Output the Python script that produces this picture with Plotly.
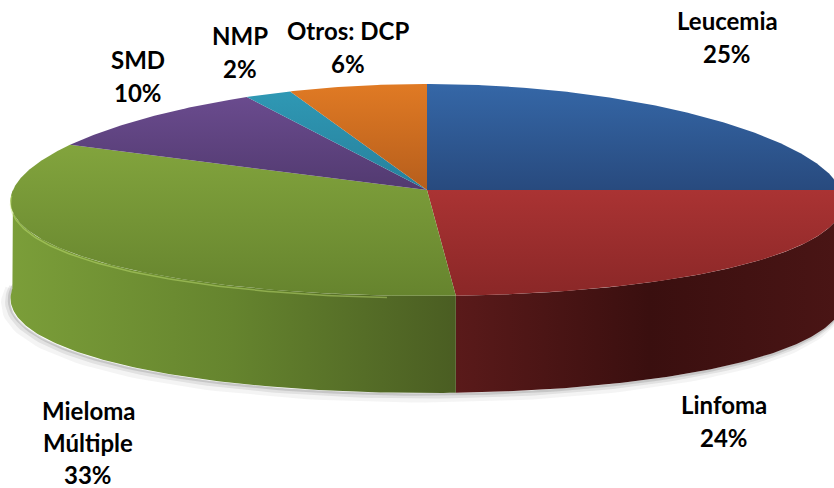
import numpy as np
import plotly.graph_objects as go

# Distribution of diagnoses (percent of total)
categories = ["Leucemia", "Linfoma", "Mieloma Múltiple", "SMD", "NMP", "Otros: DCP"]
values = [25, 24, 33, 10, 2, 6]
label_lines = [["Leucemia"], ["Linfoma"], ["Mieloma", "Múltiple"], ["SMD"], ["NMP"], ["Otros: DCP"]]

# Styling: top-face gradients (upper colour first) and side-wall gradients (left colour first)
top_colors = [
    ["#3567A7", "#284A7E"],
    ["#AA3333", "#8A2727"],
    ["#82A43D", "#66842E"],
    ["#6A4B8E", "#523A70"],
    ["#2F98B4", "#26809C"],
    ["#E07A24", "#B65E1C"],
]
side_colors = [
    ["#2A4F85", "#1C365C"],
    ["#5A1A1A", "#3A0F0F", "#4A1515"],
    ["#7B9E39", "#65842E", "#4A5D22"],
    ["#4E3868", "#3A2A50"],
    ["#237890", "#1A5A6C"],
    ["#B05A1A", "#8A4614"],
]

# Projected disc geometry (screen pixels, y grows downward)
CX, CY = 427, 190
RX, RY = 414, 106
DEPTH = 97
PERSP = 0.11


def rim(t0, t1, n=120, dz=0.0):
    th = np.radians(np.linspace(t0, t1, n))
    s, c = np.sin(th), np.cos(th)
    x = CX + RX * s * (1 - PERSP * c)
    y = CY - RY * c + dz
    return x, y


fig = go.Figure()

# soft shadow under the front rim
for off, w, a in [(5, 9, 0.06), (3, 5, 0.10), (1.5, 2.5, 0.16)]:
    sx, sy = rim(92, 272, dz=DEPTH + off)
    fig.add_trace(go.Scatter(x=sx - off, y=sy, mode="lines",
                             line=dict(color=f"rgba(60,60,60,{a})", width=w),
                             hoverinfo="skip"))

total = sum(values)
bounds = np.concatenate([[0], np.cumsum(values)]) / total * 360.0

# visible side walls (front half of the disc)
for i in range(len(values)):
    t0, t1 = bounds[i], bounds[i + 1]
    a, b = max(t0, 90.0), min(t1, 270.0)
    if b - a <= 0.05:
        continue
    x1, y1 = rim(a, b)
    x2, y2 = rim(b, a, dz=DEPTH)
    xs = np.concatenate([x1, x2, x1[:1]])
    ys = np.concatenate([y1, y2, y1[:1]])
    cs = side_colors[i]
    scale = [[k / (len(cs) - 1), c] for k, c in enumerate(cs)]
    fig.add_trace(go.Scatter(x=xs, y=ys, mode="lines", fill="toself",
                             line=dict(width=0, color=cs[-1]),
                             fillgradient=dict(type="horizontal", colorscale=scale),
                             hoverinfo="skip"))

# top faces (gradient runs bottom -> top on screen, so the list is reversed)
for i in range(len(values)):
    t0, t1 = bounds[i], bounds[i + 1]
    rx_, ry_ = rim(t0, t1, n=max(8, int((t1 - t0) * 2)))
    xs = np.concatenate([[CX], rx_, [CX]])
    ys = np.concatenate([[CY], ry_, [CY]])
    cs = top_colors[i][::-1]
    scale = [[k / (len(cs) - 1), c] for k, c in enumerate(cs)]
    fig.add_trace(go.Scatter(x=xs, y=ys, mode="lines", fill="toself",
                             line=dict(width=0, color=cs[0]),
                             fillgradient=dict(type="vertical", colorscale=scale),
                             name=categories[i], hoverinfo="name"))

# bevel highlight along the front edge of the top face
hx, hy = rim(185, 268, dz=2)
fig.add_trace(go.Scatter(x=hx, y=hy, mode="lines",
                         line=dict(color="rgba(200,230,120,0.45)", width=1.5),
                         hoverinfo="skip"))

# category / percentage labels
label_pos = [(727, 20), (724, 404), (88, 410), (138, 59), (240, 35), (348, 30)]
PITCH = 33
annotations = []
for i, lines in enumerate(label_lines):
    x0, y0 = label_pos[i]
    texts = lines + [f"{values[i]}%"]
    pitch = PITCH - 1 if len(texts) > 2 else PITCH
    for k, t in enumerate(texts):
        annotations.append(dict(x=x0, y=y0 + k * pitch, text=f"<b>{t}</b>",
                                showarrow=False, xanchor="center", yanchor="middle",
                                font=dict(family="Lato", size=24, color="#000000",
                                          weight=800)))

fig.update_layout(
    width=834, height=488,
    margin=dict(l=0, r=0, t=0, b=0),
    paper_bgcolor="white", plot_bgcolor="white",
    showlegend=False,
    xaxis=dict(range=[0, 834], visible=False, fixedrange=True),
    yaxis=dict(range=[488, 0], visible=False, fixedrange=True),
    annotations=annotations,
)

fig.write_html("out.html")
